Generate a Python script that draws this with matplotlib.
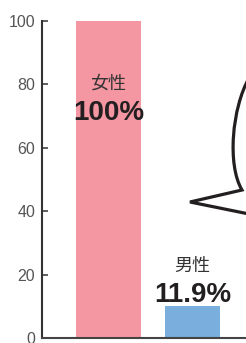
import matplotlib
matplotlib.use("Agg")
import matplotlib.pyplot as plt
from matplotlib.path import Path
from matplotlib.patches import PathPatch
from matplotlib.transforms import Affine2D

plt.rcParams['font.family'] = ['Liberation Sans', 'Noto Sans CJK JP', 'DejaVu Sans']

# data
groups = ["女性", "男性"]
bar_values = [100, 10]
pct_labels = ["100%", "11.9%"]
bar_colors = ["#F497A2", "#7AAEDD"]
bar_widths = [0.774, 0.655]
yticks = [0, 20, 40, 60, 80, 100]

W, H = 246, 343
fig = plt.figure(figsize=(W / 100, H / 100), dpi=100)
ax = fig.add_axes([42 / W, 5 / H, 204 / W, 317 / H])

x = range(len(groups))
ax.bar(x, bar_values, width=bar_widths, color=bar_colors, zorder=1)
ax.set_xlim(-0.792, 1.637)
ax.set_ylim(0, 100)
ax.set_yticks(yticks)
ax.set_xticks([])
ax.tick_params(axis='y', direction='in', length=4, width=1.2, color='#444444',
               labelsize=11.5, labelcolor='#555555', pad=5)
for s in ['top', 'right']:
    ax.spines[s].set_visible(False)
ax.spines['left'].set_color('#333333')
ax.spines['left'].set_linewidth(1.5)
ax.spines['bottom'].set_color('#444444')
ax.spines['bottom'].set_linewidth(1.5)

# labels: first one inside the bar, second above it
label_y = [(80, 71), (22.5, 13.5)]
for i, g in enumerate(groups):
    gy, py = label_y[i]
    ax.text(i, gy, g, ha='center', va='center', fontsize=13, color='#333333')
    ax.text(i, py, pct_labels[i], ha='center', va='center', fontsize=20,
            fontweight='bold', color='#231F20')

# speech bubble outline on the right (pixel coords, origin top-left)
px = Affine2D().scale(1 / W, -1 / H).translate(0, 1) + fig.transFigure
verts = [(249, 78), (232, 108), (227, 165), (242, 190),
         (190, 202), (249, 214)]
codes = [Path.MOVETO, Path.CURVE4, Path.CURVE4, Path.CURVE4,
         Path.LINETO, Path.LINETO]
bubble = PathPatch(Path(verts, codes), transform=px, fill=False,
                   edgecolor='#231F20', linewidth=2.3, joinstyle='miter')
fig.patches.append(bubble)

fig.savefig("out.png", dpi=100)
